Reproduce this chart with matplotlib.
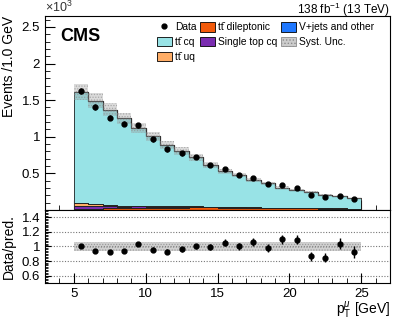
import numpy as np
import matplotlib
matplotlib.use("Agg")
import matplotlib.pyplot as plt
from matplotlib.ticker import MultipleLocator, FormatStrFormatter
from matplotlib.patches import Patch
from matplotlib.lines import Line2D

plt.rcParams['font.family'] = ['Liberation Sans', 'DejaVu Sans']
plt.rcParams['mathtext.fontset'] = 'custom'
plt.rcParams['mathtext.rm'] = 'Liberation Sans'
plt.rcParams['mathtext.it'] = 'Liberation Sans:italic'
plt.rcParams['mathtext.bf'] = 'Liberation Sans:bold'
plt.rcParams['hatch.linewidth'] = 0.6

# bins in pT (GeV), values in units of 10^3 events
edges = np.arange(5, 26, 1)
data = [1.625, 1.407, 1.263, 1.180, 1.154, 0.963, 0.827, 0.772, 0.722, 0.609,
        0.554, 0.481, 0.432, 0.354, 0.336, 0.300, 0.209, 0.177, 0.191, 0.146]
data_err = [0.040, 0.038, 0.036, 0.034, 0.034, 0.031, 0.029, 0.028, 0.027, 0.025,
            0.024, 0.022, 0.021, 0.019, 0.018, 0.017, 0.014, 0.013, 0.014, 0.012]
vjets = [0.004, 0.004, 0.003, 0.003, 0.003, 0.003, 0.003, 0.003, 0.003, 0.003,
         0.002, 0.002, 0.002, 0.002, 0.002, 0.002, 0.002, 0.002, 0.002, 0.002]
dilep = [0.012, 0.014, 0.018, 0.022, 0.025, 0.028, 0.030, 0.030, 0.032, 0.032,
         0.030, 0.028, 0.025, 0.024, 0.021, 0.019, 0.018, 0.016, 0.015, 0.014]
stop = [0.040, 0.042, 0.028, 0.022, 0.020, 0.016, 0.012, 0.010, 0.008, 0.006,
        0.006, 0.005, 0.004, 0.004, 0.003, 0.003, 0.003, 0.002, 0.002, 0.002]
ttuq = [0.034, 0.025, 0.020, 0.012, 0.010, 0.008, 0.006, 0.005, 0.005, 0.004,
        0.003, 0.003, 0.003, 0.002, 0.002, 0.002, 0.002, 0.002, 0.001, 0.001]
total = [1.610, 1.495, 1.370, 1.250, 1.120, 1.005, 0.890, 0.805, 0.720, 0.613,
         0.526, 0.480, 0.408, 0.362, 0.306, 0.274, 0.242, 0.210, 0.184, 0.158]
syst_frac = 0.065

vjets = np.array(vjets); dilep = np.array(dilep); stop = np.array(stop)
ttuq = np.array(ttuq); total = np.array(total)
data = np.array(data); data_err = np.array(data_err)
ttcq = total - vjets - dilep - stop - ttuq
centers = 0.5 * (edges[:-1] + edges[1:])

c_cq = '#98e3e6'
c_uq = '#ffad66'
c_dilep = '#f25a0a'
c_stop = '#7a2cb0'
c_vj = '#1f78ff'

fig = plt.figure(figsize=(4.07, 3.24), dpi=100)
ax = fig.add_axes([0.1106, 0.352, 0.8476, 0.5986])
rax = fig.add_axes([0.1106, 0.1265, 0.8476, 0.2255], sharex=ax)

# stack
base = np.zeros(len(total))
for vals, col in [(vjets, c_vj), (dilep, c_dilep), (stop, c_stop), (ttuq, c_uq), (ttcq, c_cq)]:
    ax.stairs(base + vals, edges, baseline=base, fill=True, facecolor=col,
              edgecolor='none', zorder=2)
    ax.stairs(base + vals, edges, baseline=base, color='#222222', lw=0.6, zorder=3)
    base = base + vals
ax.stairs(total, edges, baseline=None, color='#333333', lw=0.9, zorder=3)

# syst band
ax.stairs(total * (1 + syst_frac), edges, baseline=total * (1 - syst_frac), fill=True,
          facecolor=(0.6, 0.6, 0.6, 0.35), edgecolor=(0.55, 0.55, 0.55, 0.6),
          hatch='......', lw=0, zorder=4)

ax.errorbar(centers, data, yerr=data_err, fmt='o', color='black', ms=3.5,
            elinewidth=1, capsize=0, zorder=5)

ax.set_xlim(3, 27)
ax.set_ylim(0, 2.65)
ax.yaxis.set_minor_locator(MultipleLocator(0.1))
ax.yaxis.set_major_formatter(FormatStrFormatter('%g'))
ax.set_yticks([0.5, 1, 1.5, 2, 2.5])
ax.tick_params(axis='both', which='major', direction='in', length=7, labelsize=9.5)
ax.tick_params(axis='both', which='minor', direction='in', length=3.5)
ax.tick_params(axis='x', labelbottom=False)
ax.set_ylabel('Events /1.0 GeV', loc='top', fontsize=10)
ax.text(0.0, 1.003, r'$\times10^{3}$', transform=ax.transAxes, fontsize=9,
        ha='left', va='bottom', color='#333333')
ax.text(1.0, 1.012, r'138 fb$^{-1}$ (13 TeV)', transform=ax.transAxes, fontsize=8.5,
        ha='right', va='baseline')
ax.text(0.045, 0.94, 'CMS', transform=ax.transAxes, fontsize=13, fontweight='bold',
        ha='left', va='top')

tt = 'tt\u0304'
handles = [
    Line2D([], [], marker='o', color='black', ls='none', ms=3.5),
    Patch(facecolor=c_cq, edgecolor='black', lw=0.6),
    Patch(facecolor=c_uq, edgecolor='black', lw=0.6),
    Patch(facecolor=c_dilep, edgecolor='black', lw=0.6),
    Patch(facecolor=c_stop, edgecolor='black', lw=0.6),
    Patch(facecolor=c_vj, edgecolor='black', lw=0.6),
    Patch(facecolor=(0.8, 0.8, 0.8), edgecolor=(0.55, 0.55, 0.55), hatch='.....', lw=0.6),
]
labels = ['Data', tt + ' cq', tt + ' uq', tt + ' dileptonic', 'Single top cq',
          'V+jets and other', 'Syst. Unc.']
ax.legend(handles, labels, ncol=3, loc='upper left', bbox_to_anchor=(0.318, 0.978),
          frameon=False, fontsize=7.4, handlelength=1.5, handleheight=1.0,
          handletextpad=0.3, columnspacing=0.3, labelspacing=0.45, borderaxespad=0,
          borderpad=0.2)

# ratio
ratio = data / total
ratio_err = data_err / total
rax.stairs(np.full(len(total), 1 + syst_frac), edges,
           baseline=np.full(len(total), 1 - syst_frac), fill=True,
           facecolor=(0.6, 0.6, 0.6, 0.45), edgecolor=(0.5, 0.5, 0.5, 0.6),
           hatch='......', lw=0, zorder=2)
for yv in [0.6, 0.8, 1.0, 1.2, 1.4]:
    rax.axhline(yv, color='#777777', lw=0.8, ls=(0, (1, 1.5)), zorder=1)
rax.errorbar(centers, ratio, yerr=ratio_err, fmt='o', color='black', ms=3.5,
             elinewidth=1, capsize=0, zorder=5)
rax.set_ylim(0.5, 1.5)
rax.set_yticks([0.6, 0.8, 1, 1.2, 1.4])
rax.yaxis.set_major_formatter(FormatStrFormatter('%g'))
rax.yaxis.set_minor_locator(MultipleLocator(0.02))
rax.xaxis.set_major_locator(MultipleLocator(5))
rax.xaxis.set_minor_locator(MultipleLocator(1))
rax.tick_params(axis='both', which='major', direction='in', length=7, labelsize=9.5)
rax.tick_params(axis='both', which='minor', direction='in', length=3.5)
rax.tick_params(axis='y', which='major', length=4)
rax.tick_params(axis='y', which='minor', length=2.5)
rax.set_ylabel('Data/pred.', fontsize=10)
rax.set_xlabel(r'p$_{\mathrm{T}}^{\mu}$ [GeV]', loc='right', fontsize=10, labelpad=0)

fig.align_ylabels([ax, rax])
fig.savefig('out.png', dpi=100)
